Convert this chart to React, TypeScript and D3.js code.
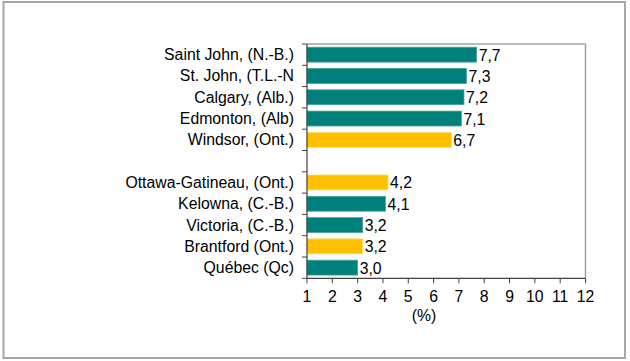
import React from "react";
import * as d3 from "d3";

const categories = [
  "Saint John, (N.-B.)",
  "St. John, (T.L.-N",
  "Calgary, (Alb.)",
  "Edmonton, (Alb)",
  "Windsor, (Ont.)",
  "",
  "Ottawa-Gatineau, (Ont.)",
  "Kelowna, (C.-B.)",
  "Victoria, (C.-B.)",
  "Brantford (Ont.)",
  "Québec (Qc)",
];
const values: (number | null)[] = [7.7, 7.3, 7.2, 7.1, 6.7, null, 4.2, 4.1, 3.2, 3.2, 3.0];
const ontario = [false, false, false, false, true, false, true, false, false, true, false];
const xTicks = [1, 2, 3, 4, 5, 6, 7, 8, 9, 10, 11, 12];
const axisTitle = "(%)";

const W = 630;
const H = 361;
const FONT = "Liberation Sans, Arial, sans-serif";
const FS = 15.8;

export default function App() {
  const left = 307;
  const right = 585.5;
  const top = 44;
  const bottom = 278.3;
  const keys = categories.map((c, i) => `${i}`);
  const x = d3.scaleLinear().domain([1, 12]).range([left, right]);
  const y = d3.scaleBand<string>().domain(keys).range([top, bottom]).paddingInner(0.3).paddingOuter(0.15);
  const step = y.step();
  const bandStart = (k: string) => (y(k) as number) - step * y.paddingInner() / 2;

  return (
    <svg width={W} height={H} style={{ position: "absolute", left: 0, top: 0 }} fontFamily={FONT}>
      <rect x={0} y={0} width={W} height={H} fill="#fff" />
      <rect x={3.5} y={2} width={621.5} height={356} fill="none" stroke="#a6a6a6" strokeWidth={2} />
      {/* plot frame */}
      <line x1={left} x2={right} y1={top} y2={top} stroke="#a0a0a0" strokeWidth={1.5} />
      <line x1={right} x2={right} y1={top} y2={bottom} stroke="#a0a0a0" strokeWidth={1.5} />
      {/* bars */}
      {keys.map((k, i) => {
        const v = values[i];
        if (v == null) return null;
        const by = y(k) as number;
        return (
          <g key={k}>
            <rect
              x={x(1)}
              y={by}
              width={x(v) - x(1)}
              height={y.bandwidth()}
              fill={ontario[i] ? "#ffc000" : "#00807a"}
              stroke={ontario[i] ? "#ffd966" : "#4aa39f"}
              strokeWidth={0.8}
            />
            <text x={x(v) + 2} y={by + y.bandwidth() / 2 + 6} fontSize={FS} fill="#000">
              {v.toFixed(1).replace(".", ",")}
            </text>
          </g>
        );
      })}
      {/* y labels */}
      {keys.map((k, i) => (
        <text
          key={"l" + k}
          x={294}
          y={(y(k) as number) + y.bandwidth() / 2 + 5.5}
          textAnchor="end"
          fontSize={FS}
          fill="#000"
        >
          {categories[i]}
        </text>
      ))}
      {/* y axis and ticks */}
      <line x1={left} x2={left} y1={top} y2={bottom} stroke="#404040" strokeWidth={1.2} />
      {keys.map((k) => (
        <line key={"t" + k} x1={left - 5} x2={left} y1={bandStart(k)} y2={bandStart(k)} stroke="#404040" strokeWidth={1} />
      ))}
      <line x1={left - 5} x2={left} y1={bottom} y2={bottom} stroke="#404040" strokeWidth={1} />
      {/* x axis */}
      <line x1={left} x2={right} y1={bottom} y2={bottom} stroke="#404040" strokeWidth={1.2} />
      {xTicks.map((t) => (
        <g key={"x" + t}>
          <line x1={x(t)} x2={x(t)} y1={bottom} y2={bottom + 5} stroke="#404040" strokeWidth={1} />
          <text x={x(t)} y={bottom + 24} textAnchor="middle" fontSize={FS} fill="#000">
            {t}
          </text>
        </g>
      ))}
      <text x={424} y={320.5} textAnchor="middle" fontSize={FS} fill="#000">
        {axisTitle}
      </text>
    </svg>
  );
}
